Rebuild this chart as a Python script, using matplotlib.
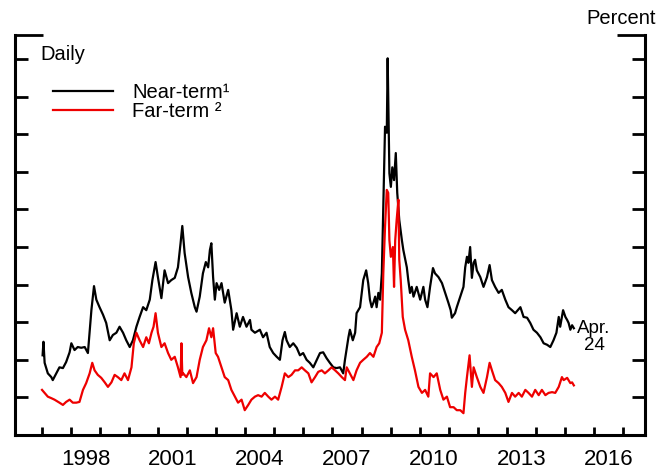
import matplotlib
matplotlib.use("Agg")
import matplotlib.pyplot as plt

plt.rcParams['font.family'] = ['Liberation Sans', 'DejaVu Sans']

# Near-term series (fractional years / percent)
near_years = [
    1997.02, 1997.05, 1997.09, 1997.20, 1997.32, 1997.37, 1997.49, 1997.60, 1997.72, 1997.83,
    1997.95, 1998.01, 1998.12, 1998.23, 1998.35, 1998.47, 1998.58, 1998.70, 1998.79, 1998.87,
    1998.98, 1999.10, 1999.21, 1999.33, 1999.44, 1999.56, 1999.67, 1999.79, 1999.90, 2000.02,
    2000.13, 2000.25, 2000.36, 2000.48, 2000.59, 2000.71, 2000.80, 2000.91, 2000.99, 2001.11,
    2001.22, 2001.34, 2001.45, 2001.57, 2001.68, 2001.77, 2001.83, 2001.91, 2002.03, 2002.14,
    2002.26, 2002.32, 2002.43, 2002.54, 2002.64, 2002.72, 2002.78, 2002.83, 2002.89, 2002.95,
    2003.01, 2003.10, 2003.18, 2003.29, 2003.41, 2003.52, 2003.58, 2003.70, 2003.81, 2003.92,
    2004.04, 2004.16, 2004.21, 2004.33, 2004.50, 2004.61, 2004.73, 2004.84, 2004.96, 2005.08,
    2005.19, 2005.28, 2005.36, 2005.42, 2005.53, 2005.65, 2005.77, 2005.88, 2005.99, 2006.11,
    2006.22, 2006.34, 2006.46, 2006.57, 2006.68, 2006.80, 2006.91, 2007.03, 2007.14, 2007.26,
    2007.37, 2007.43, 2007.55, 2007.60, 2007.70, 2007.78, 2007.83, 2007.95, 2008.01, 2008.06,
    2008.16, 2008.23, 2008.29, 2008.35, 2008.41, 2008.47, 2008.52, 2008.58, 2008.64, 2008.70,
    2008.75, 2008.81, 2008.87, 2008.90, 2008.96, 2009.01, 2009.06, 2009.12, 2009.18, 2009.23,
    2009.30, 2009.39, 2009.44, 2009.56, 2009.61, 2009.67, 2009.73, 2009.79, 2009.90, 2010.02,
    2010.13, 2010.19, 2010.27, 2010.36, 2010.46, 2010.53, 2010.65, 2010.77, 2010.88, 2010.99,
    2011.07, 2011.11, 2011.22, 2011.28, 2011.40, 2011.51, 2011.57, 2011.63, 2011.68, 2011.74,
    2011.80, 2011.86, 2011.91, 2011.97, 2012.09, 2012.20, 2012.32, 2012.41, 2012.49, 2012.60,
    2012.72, 2012.83, 2012.95, 2013.06, 2013.18, 2013.29, 2013.47, 2013.58, 2013.70, 2013.81,
    2013.92, 2014.04, 2014.16, 2014.27, 2014.39, 2014.50, 2014.61, 2014.71, 2014.79, 2014.84,
    2014.94, 2015.02, 2015.08, 2015.13, 2015.19, 2015.25, 2015.31,
]
near_vals = [
    10.6, 12.4, 9.6, 8.2, 7.7, 7.3, 8.2, 9.0, 8.9, 9.7,
    11.0, 12.2, 11.3, 11.7, 11.6, 11.7, 10.9, 16.6, 19.8, 18.0,
    17.0, 16.0, 14.9, 12.6, 13.3, 13.6, 14.4, 13.6, 12.6, 11.7,
    12.6, 14.4, 15.7, 17.0, 16.6, 18.0, 20.6, 23.0, 21.0, 18.2,
    21.9, 20.2, 20.6, 20.9, 22.3, 25.5, 27.8, 24.2, 21.0, 18.9,
    17.0, 16.4, 18.4, 21.5, 23.0, 22.3, 24.6, 25.5, 21.0, 18.0,
    20.2, 19.3, 20.2, 17.6, 19.3, 16.6, 14.0, 16.2, 14.4, 15.7,
    14.4, 15.3, 14.0, 13.6, 14.0, 13.0, 13.6, 11.7, 10.9, 10.4,
    10.0, 12.6, 13.7, 12.6, 11.7, 12.2, 11.6, 10.6, 10.9, 10.0,
    9.6, 9.0, 10.0, 10.9, 11.0, 10.2, 9.6, 9.0, 8.9, 9.0,
    8.2, 10.0, 13.0, 14.0, 12.6, 13.6, 16.2, 17.0, 18.9, 20.6,
    21.9, 20.2, 18.0, 17.0, 17.6, 18.4, 17.0, 18.9, 18.0, 21.5,
    30.3, 41.0, 40.2, 50.1, 34.8, 33.0, 35.6, 33.9, 37.5, 32.2,
    28.6, 25.9, 24.6, 22.3, 20.6, 18.9, 19.7, 18.4, 19.7, 18.0,
    19.7, 18.0, 17.0, 19.7, 22.2, 21.5, 21.0, 20.2, 18.9, 17.6,
    16.6, 15.6, 16.2, 17.0, 18.4, 19.7, 22.3, 23.7, 22.9, 25.0,
    20.9, 22.9, 23.3, 21.9, 21.0, 19.7, 21.0, 22.6, 20.6, 19.7,
    18.9, 19.3, 18.0, 17.0, 16.6, 16.2, 17.0, 15.7, 15.6, 14.9,
    14.0, 13.6, 13.0, 12.2, 12.0, 11.7, 12.6, 13.6, 15.7, 14.4,
    16.6, 15.7, 15.3, 14.9, 14.0, 14.6, 14.2,
]

# Far-term series
far_years = [
    1997.00, 1997.09, 1997.20, 1997.32, 1997.43, 1997.60, 1997.72, 1997.83, 1997.95, 1998.06,
    1998.18, 1998.29, 1998.41, 1998.52, 1998.64, 1998.73, 1998.81, 1998.92, 1999.04, 1999.16,
    1999.27, 1999.39, 1999.50, 1999.61, 1999.73, 1999.84, 1999.96, 2000.08, 2000.16, 2000.25,
    2000.36, 2000.48, 2000.59, 2000.68, 2000.77, 2000.84, 2000.91, 2000.99, 2001.11, 2001.22,
    2001.34, 2001.45, 2001.57, 2001.68, 2001.77, 2001.80, 2001.83, 2001.86, 2001.97, 2002.09,
    2002.20, 2002.32, 2002.43, 2002.54, 2002.66, 2002.75, 2002.83, 2002.89, 2002.98, 2003.06,
    2003.18, 2003.29, 2003.41, 2003.52, 2003.64, 2003.75, 2003.87, 2003.98, 2004.10, 2004.21,
    2004.33, 2004.44, 2004.56, 2004.67, 2004.79, 2004.90, 2005.02, 2005.13, 2005.25, 2005.36,
    2005.48, 2005.59, 2005.71, 2005.82, 2005.94, 2006.05, 2006.17, 2006.28, 2006.40, 2006.51,
    2006.63, 2006.74, 2006.86, 2006.97, 2007.09, 2007.20, 2007.32, 2007.43, 2007.49, 2007.60,
    2007.72, 2007.83, 2007.95, 2008.06, 2008.18, 2008.29, 2008.41, 2008.52, 2008.61, 2008.70,
    2008.75, 2008.81, 2008.87, 2008.92, 2008.96, 2009.01, 2009.08, 2009.12, 2009.16, 2009.21,
    2009.27, 2009.30, 2009.35, 2009.42, 2009.50, 2009.61, 2009.73, 2009.84, 2009.96, 2010.08,
    2010.19, 2010.30, 2010.36, 2010.48, 2010.59, 2010.71, 2010.82, 2010.94, 2011.05, 2011.17,
    2011.28, 2011.40, 2011.51, 2011.57, 2011.63, 2011.72, 2011.80, 2011.86, 2011.97, 2012.09,
    2012.20, 2012.32, 2012.41, 2012.49, 2012.60, 2012.72, 2012.83, 2012.95, 2013.06, 2013.18,
    2013.29, 2013.41, 2013.52, 2013.64, 2013.75, 2013.87, 2013.98, 2014.10, 2014.21, 2014.33,
    2014.44, 2014.56, 2014.67, 2014.79, 2014.90, 2014.96, 2015.08, 2015.19, 2015.25, 2015.31,
]
far_vals = [
    6.0, 5.6, 5.1, 4.9, 4.7, 4.3, 4.0, 4.4, 4.7, 4.3,
    4.3, 4.4, 6.0, 6.9, 8.2, 9.6, 8.6, 8.0, 7.6, 7.0,
    6.4, 7.0, 8.0, 7.7, 7.3, 8.2, 7.3, 9.0, 12.2, 13.6,
    12.6, 11.7, 13.0, 12.2, 13.6, 14.4, 16.2, 13.6, 11.7, 12.2,
    10.9, 10.0, 10.4, 9.0, 7.7, 12.2, 8.0, 8.2, 7.7, 8.6,
    6.9, 7.7, 10.0, 11.7, 12.6, 14.2, 13.0, 14.2, 10.9, 10.4,
    9.0, 7.7, 7.3, 6.0, 5.1, 4.3, 4.7, 3.3, 4.0, 4.7,
    5.1, 5.3, 5.1, 5.6, 5.1, 4.7, 5.1, 4.7, 6.4, 8.2,
    7.7, 8.0, 8.6, 8.6, 9.0, 8.6, 8.2, 7.0, 7.7, 8.4,
    8.6, 8.2, 8.6, 9.0, 8.6, 8.2, 7.7, 7.3, 9.0, 8.2,
    7.3, 8.6, 9.6, 10.0, 10.4, 10.9, 10.4, 11.7, 12.2, 13.6,
    21.5, 27.7, 32.6, 32.2, 25.9, 23.7, 25.0, 19.7, 25.9, 28.6,
    31.3, 23.3, 20.6, 15.7, 14.0, 12.6, 10.4, 8.6, 6.4, 5.6,
    6.0, 5.1, 8.2, 7.7, 8.2, 6.0, 4.7, 5.1, 3.7, 3.7,
    3.3, 3.3, 2.9, 5.6, 7.7, 10.6, 6.4, 9.0, 7.7, 6.4,
    5.6, 7.7, 9.6, 8.6, 7.3, 6.9, 6.4, 5.6, 4.4, 5.6,
    5.1, 5.6, 5.1, 6.0, 5.6, 5.1, 6.0, 5.3, 6.0, 5.3,
    5.6, 5.7, 5.6, 6.4, 7.7, 7.3, 7.6, 6.9, 7.0, 6.6,
]

year_ticks = list(range(1997, 2018))
label_years = [1998, 2001, 2004, 2007, 2010, 2013, 2016]
y_ticks = [5, 10, 15, 20, 25, 30, 35, 40, 45, 50]
y_top = 53.2


def main():
    fig = plt.figure(figsize=(6.65, 4.75), dpi=100)
    ax = fig.add_axes([15 / 665, 40 / 475, 630 / 665, 400 / 475])

    ax.plot(near_years, near_vals, color='black', lw=1.6, label='Near-term\u00b9')
    ax.plot(far_years, far_vals, color='#ee0000', lw=1.6, label='Far-term \u00b2')

    ax.set_xlim(1996.07, 2017.76)
    ax.set_ylim(0, y_top)

    for side in ['left', 'right', 'bottom']:
        ax.spines[side].set_linewidth(2.2)
    ax.spines['top'].set_visible(False)

    # x: year boundary ticks, labels centred in the year
    ax.set_xticks(year_ticks)
    ax.set_xticklabels([])
    ax.set_xticks([y + 0.5 for y in label_years], minor=True)
    ax.set_xticklabels([str(y) for y in label_years], minor=True)
    ax.tick_params(axis='x', which='major', direction='in', length=6, width=2.0)
    ax.tick_params(axis='x', which='minor', length=0, pad=10, labelsize=16)

    # y: ticks on both sides, no labels, longer cap at the top
    ax.set_yticks(y_ticks)
    ax.set_yticks([y_top], minor=True)
    ax.tick_params(axis='y', which='both', direction='in', left=True, right=True,
                   labelleft=False, labelright=False)
    ax.tick_params(axis='y', which='major', length=9.5, width=2.0)
    ax.tick_params(axis='y', which='minor', length=20, width=2.0)

    ax.text(0.04, 0.95, 'Daily', transform=ax.transAxes, fontsize=14.5,
            ha='left', va='center')
    ax.text(0.919, 0.245, 'Apr.\n24', transform=ax.transAxes, fontsize=13.5,
            ha='center', va='center', linespacing=1.05)
    fig.text(0.986, 0.96, 'Percent', fontsize=14.5, ha='right', va='center')

    ax.legend(loc='upper left', bbox_to_anchor=(0.06, 0.88), frameon=False,
              fontsize=14.5, handlelength=3.0, handletextpad=0.95,
              labelspacing=0.0, borderpad=0, borderaxespad=0)

    fig.savefig('out.png', dpi=100)


if __name__ == "__main__":
    main()
